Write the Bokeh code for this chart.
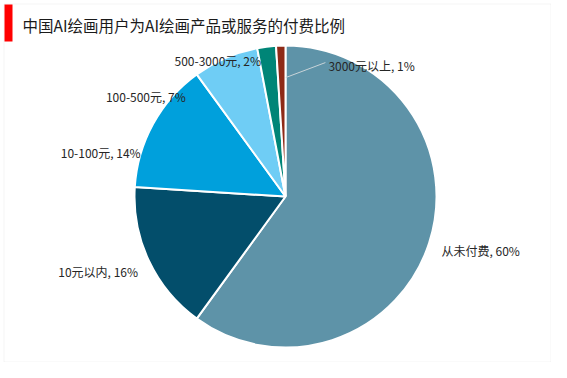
import numpy as np
from bokeh.plotting import figure
from bokeh.models import Range1d, ColumnDataSource, BoxAnnotation, Label
from bokeh.embed import file_html
from bokeh.resources import INLINE

# ---- data ----
title_text = "中国AI绘画用户为AI绘画产品或服务的付费比例"
categories = ["从未付费", "10元以内", "10-100元", "100-500元", "500-3000元", "3000元以上"]
shares = [60, 16, 14, 7, 2, 1]

# ---- style ----
colors = ["#5E93A8", "#034E6B", "#00A0DC", "#6FCDF5", "#008577", "#8E2A17"]
label_dx = [1, 0, -2, -35, -4, 48]
label_dy = [-4, -6, -35, -50, -26, -32]
W, H = 551, 362
cx, cy, R = 285, 166, 151
FONT = "Noto Sans CJK SC"

p = figure(width=W, height=H, output_backend="svg", toolbar_location=None,
           x_range=Range1d(0, W), y_range=Range1d(0, H), min_border=0)
p.axis.visible = False
p.grid.visible = False
p.outline_line_color = None
p.background_fill_color = "white"
p.border_fill_color = "white"

# frame border
p.add_layout(BoxAnnotation(left=3.5, right=550.5, top=358.5, bottom=0.5,
                           fill_alpha=0, line_color="#D9D9D9", line_width=1))

vals = np.array(shares, dtype=float)
frac = vals / vals.sum()
cum_end = np.cumsum(frac)
cum_start = cum_end - frac
start = np.pi / 2 - 2 * np.pi * cum_start
end = np.pi / 2 - 2 * np.pi * cum_end
mid = (start + end) / 2

src = ColumnDataSource(dict(start=start, end=end, color=colors,
                            cat=categories, val=shares))
p.wedge(x=cx, y=cy, radius=R, start_angle="start", end_angle="end",
        direction="clock", fill_color="color", line_color="white",
        line_width=2, source=src)

# labels
rl = R + 12
for i, (c, v) in enumerate(zip(categories, shares)):
    ax = cx + rl * np.cos(mid[i]) + label_dx[i]
    ay = cy + rl * np.sin(mid[i]) + label_dy[i]
    align = "left" if (np.cos(mid[i]) > 0 or i == len(shares) - 1) else "right"
    lab = Label(x=ax, y=ay, text=f"{c}, {v}%", text_font=FONT,
                text_font_size="12px", text_color="#262626",
                text_align=align, text_baseline="middle")
    p.add_layout(lab)
    if i == len(shares) - 1:
        # leader line from slice to label
        x0 = cx + (R - 32) * np.cos(mid[i])
        y0 = cy + (R - 32) * np.sin(mid[i])
        p.line([x0 + 4, ax - 3], [y0, ay + 3], line_color="#C8D3D8", line_width=1)

# title decoration
p.add_layout(BoxAnnotation(left=4, right=12, top=358, bottom=321,
                           fill_color="#FF0000", fill_alpha=1, line_color=None))
p.add_layout(Label(x=22, y=338, text=title_text, text_font=FONT,
                   text_font_size="15.5px", text_color="#1A1A1A",
                   text_baseline="middle"))

open("out.html", "w").write(file_html(p, INLINE))
